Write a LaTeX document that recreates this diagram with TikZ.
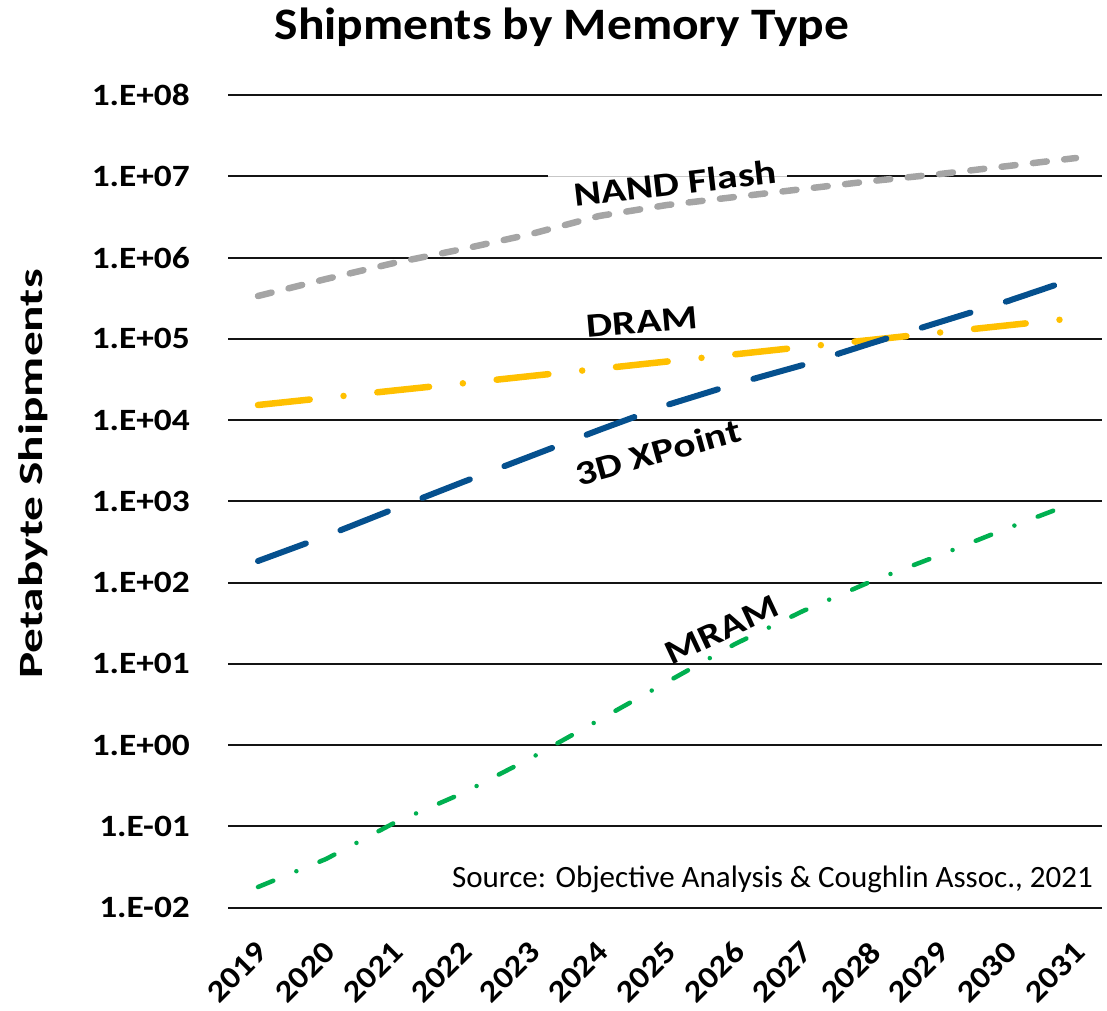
\documentclass[tikz,border=0pt]{standalone}
\usepackage{fontspec}
\setmainfont{Carlito}
\newcommand\txt[3]{\scalebox{#1}[1]{\fontsize{#2}{#2}\selectfont #3}}
\begin{document}
\begin{tikzpicture}[x=1pt,y=-1pt,
  grid/.style={line width=2pt, draw=black!92},
  gridlight/.style={line width=1.6pt, draw=black!22},
  series/.style={line cap=round, line join=round},
  nand/.style={series, draw={rgb,255:red,165;green,165;blue,165}, line width=6.5pt,
    dash pattern=on 14pt off 17.5pt},
  dram/.style={series, draw={rgb,255:red,255;green,192;blue,0}, line width=6.5pt,
    dash pattern=on 52pt off 34pt on 0pt off 34pt},
  xpoint/.style={series, draw={rgb,255:red,5;green,80;blue,142}, line width=6pt,
    dash pattern=on 51pt off 37pt},
  mram/.style={series, draw={rgb,255:red,0;green,176;blue,80}, line width=4.5pt,
    dash pattern=on 16.5pt off 25pt on 0pt off 25pt},
  ticklab/.style={inner sep=0pt, anchor=east},
  serieslab/.style={inner sep=0pt}
]
\path[use as bounding box] (0,0) rectangle (1107,1010);

% horizontal gridlines, one per decade (1e8 at top, 1e-2 at bottom)
\foreach \k in {0,2,3,...,10}
  \draw[grid] (228,{95+81.27*\k}) -- (1102,{95+81.27*\k});
\draw[grid] (228,176.3) -- (548,176.3);
\draw[gridlight] (548,176.3) -- (787,176.3);
\draw[grid] (787,176.3) -- (1102,176.3);

% value axis labels
\foreach \lab [count=\k from 0] in {1.E+08,1.E+07,1.E+06,1.E+05,1.E+04,1.E+03,1.E+02,1.E+01,1.E+00,1.E-01,1.E-02}
  \node[ticklab] (ylab\k) at (190,{95+81.27*\k}) {\txt{1.14}{31}{\bfseries \lab}};

% category axis labels
\foreach \yr [count=\i from 0] in {2019,2020,2021,2022,2023,2024,2025,2026,2027,2028,2029,2030,2031}
  \node[ticklab, rotate=45] (xlab\i) at ({262+68.17*\i},947) {\txt{1.12}{31}{\bfseries \yr}};

% series
\draw[nand] (258,296) -- (326,279) -- (394,263) -- (463,249) -- (531,234) -- (599,216)
  -- (667,205) -- (735,197) -- (803,189) -- (872,181) -- (940,174) -- (1008,166) -- (1076,158);
\draw[dram] (258,405) -- (326,397.8) -- (394,390.5) -- (463,383.3) -- (531,376) -- (599,368.8)
  -- (667,361.5) -- (735,354.3) -- (803,347) -- (872,339.8) -- (940,332.5) -- (1008,325.3) -- (1076,318);
\draw[xpoint] (258,561) -- (326,536) -- (394,509) -- (463,482) -- (531,456) -- (599,430)
  -- (667,405) -- (735,384) -- (803,365) -- (872,343) -- (940,322) -- (1008,301) -- (1076,278);
\draw[mram] (258,887) -- (326,859) -- (394,823) -- (463,793) -- (531,758) -- (599,720)
  -- (667,682) -- (735,644) -- (803,611) -- (872,581) -- (940,555) -- (1008,528) -- (1076,502);

% series labels
\node[serieslab, rotate=6.5] (lnand) at (675,183) {\txt{1.22}{34}{\bfseries NAND Flash}};
\node[serieslab, rotate=5] (ldram) at (642,322) {\txt{1.22}{34}{\bfseries DRAM}};
\node[serieslab, rotate=15.5] (lxp) at (658,452) {\txt{1.22}{34}{\bfseries 3D XPoint}};
\node[serieslab, rotate=25] (lmram) at (722,630) {\txt{1.22}{34}{\bfseries MRAM}};

% titles and source note
\node[anchor=base, inner sep=0pt] (title) at (562,39) {\txt{1.10}{45}{\bfseries Shipments by Memory Type}};
\node[anchor=base, inner sep=0pt, rotate=90] (ytitle) at (42,474) {\txt{1.45}{34}{\bfseries Petabyte Shipments}};
\node[anchor=base east, inner sep=0pt] (source) at (1093,887) {\txt{1.0}{31}{Source: Objective Analysis \& Coughlin Assoc., 2021}};
\end{tikzpicture}
\end{document}
